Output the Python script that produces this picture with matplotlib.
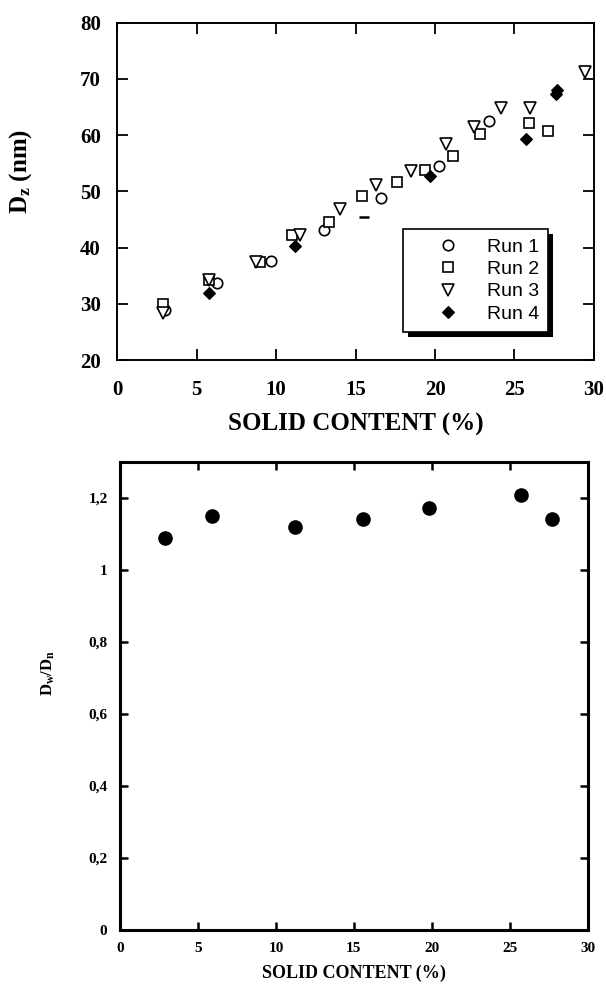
"""Particle size vs solid content: Dz for four runs and Dw/Dn polydispersity."""
import matplotlib

matplotlib.use("Agg")
import matplotlib.pyplot as plt
from matplotlib.patches import Rectangle

plt.rcParams["font.family"] = ["Liberation Serif", "DejaVu Serif"]
plt.rcParams["font.weight"] = "bold"
plt.rcParams["mathtext.fontset"] = "custom"
plt.rcParams["mathtext.rm"] = "Liberation Serif:bold"
plt.rcParams["mathtext.it"] = "Liberation Serif:bold"
plt.rcParams["mathtext.bf"] = "Liberation Serif:bold"

# Dz (nm) per run
RUN1_X = [3.0, 6.25, 9.65, 13.0, 16.6, 20.25, 23.4]
RUN1_Y = [28.9, 33.8, 37.7, 43.1, 48.9, 54.6, 62.6]
RUN2_X = [2.9, 5.8, 9.0, 11.0, 13.3, 15.4, 17.6, 19.4, 21.1, 22.8, 25.9, 27.1]
RUN2_Y = [30.0, 34.2, 37.5, 42.2, 44.6, 49.1, 51.6, 53.8, 56.3, 60.2, 62.1, 60.8]
RUN3_X = [2.9, 5.8, 8.7, 11.5, 14.0, 16.3, 18.5, 20.7, 22.45, 24.15, 25.95, 29.45]
RUN3_Y = [28.3, 34.3, 37.5, 42.2, 46.9, 51.1, 53.6, 58.4, 61.4, 64.8, 64.8, 71.3]
RUN4_X = [5.8, 11.2, 19.7, 25.75, 27.6, 27.7]
RUN4_Y = [32.0, 40.3, 52.8, 59.3, 67.3, 68.0]
STRAY_X = [15.5]
STRAY_Y = [45.5]

# Dw/Dn, bottom panel
PDI_X = [2.9, 5.9, 11.2, 15.6, 19.8, 25.7, 27.7]
PDI_Y = [1.09, 1.15, 1.12, 1.143, 1.172, 1.207, 1.143]
PDI_TICKS = [0, 0.2, 0.4, 0.6, 0.8, 1.0, 1.2]
PDI_LABELS = ["0", "0,2", "0,4", "0,6", "0,8", "1", "1,2"]

fig = plt.figure(figsize=(6.06, 9.84), dpi=100)
ax1 = fig.add_axes([0.1936, 0.634, 0.7864, 0.343])
ax2 = fig.add_axes([0.198, 0.0549, 0.772, 0.4756])

open_kw = dict(linestyle="none", markerfacecolor="white", markeredgecolor="black", markeredgewidth=1.2)
ax1.plot(RUN1_X, RUN1_Y, marker="o", markersize=7.5, label="Run 1", **open_kw)
ax1.plot(RUN2_X, RUN2_Y, marker="s", markersize=7.5, label="Run 2", **open_kw)
ax1.plot(RUN3_X, RUN3_Y, marker="v", markersize=8.5, label="Run 3", **open_kw)
ax1.plot(RUN4_X, RUN4_Y, marker="D", markersize=6.2, markeredgewidth=0.8, linestyle="none",
         color="black", label="Run 4")
ax1.plot(STRAY_X, STRAY_Y, marker="_", markersize=7, markeredgewidth=1.8, linestyle="none", color="black")

ax1.set_xlim(0, 30)
ax1.set_ylim(20, 80)
ax1.set_xticks(range(0, 31, 5))
ax1.set_yticks(range(20, 81, 10))
ax1.tick_params(direction="in", length=8, width=1.3, top=True, right=True, labelsize=15, pad=14)
ax1.tick_params(axis="y", pad=12)
for spine in ax1.spines.values():
    spine.set_linewidth(1.4)
ax1.set_xlabel("SOLID CONTENT (%)", fontsize=18, fontweight="bold")
ax1.xaxis.set_label_coords(0.5, -0.155)
ax1.set_ylabel(r"$\mathrm{D_z}$ (nm)", fontsize=18, fontweight="bold")
ax1.yaxis.set_label_coords(-0.175, 0.56)

leg = ax1.legend(loc="upper left", bbox_to_anchor=(0.599, 0.388), fancybox=False, framealpha=1,
                 edgecolor="black", handlelength=3.7, handletextpad=0.2, borderpad=0.45,
                 labelspacing=0.25, borderaxespad=0,
                 prop={"family": "Liberation Sans", "size": 14, "weight": "normal"})
leg.get_frame().set_linewidth(1.2)
leg.set_zorder(6)

ax2.plot(PDI_X, PDI_Y, marker="o", markersize=9.5, linestyle="none", color="black")
ax2.set_xlim(0, 30)
ax2.set_ylim(0, 1.3)
ax2.set_xticks(range(0, 31, 5))
ax2.set_yticks(PDI_TICKS, PDI_LABELS)
ax2.tick_params(direction="in", length=6, width=1.8, top=True, right=True, labelsize=11, pad=9)
for spine in ax2.spines.values():
    spine.set_linewidth(2.2)
ax2.set_xlabel("SOLID CONTENT (%)", fontsize=13, fontweight="bold")
ax2.xaxis.set_label_coords(0.5, -0.075)
ax2.set_ylabel(r"$\mathrm{D_w/D_n}$", fontsize=12, fontweight="bold")
ax2.yaxis.set_label_coords(-0.135, 0.55)

# black drop shadow behind the legend box
fig.canvas.draw()
box = leg.get_window_extent().transformed(fig.transFigure.inverted())
dx, dy = 5 / 606, 5 / 984
shadow = Rectangle((box.x0 + dx, box.y0 - dy), box.width, box.height, transform=fig.transFigure,
                   facecolor="black", edgecolor="none", zorder=5)
ax1.add_artist(shadow)
shadow.set_clip_on(False)

fig.savefig("out.png", dpi=100)
